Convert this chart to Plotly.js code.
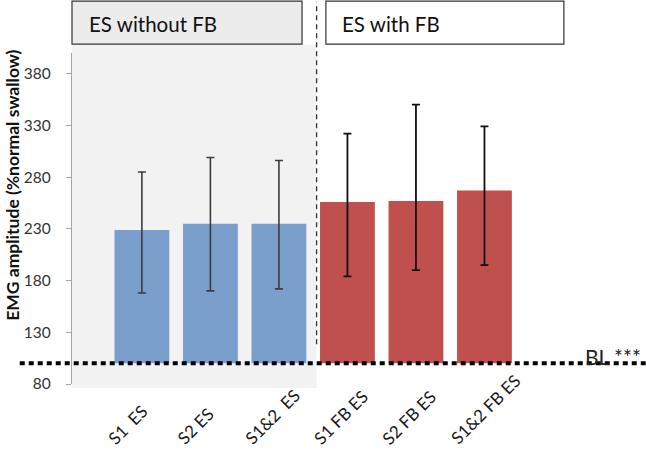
<!DOCTYPE html>
<html>
<head>
<meta charset="utf-8">
<script src="https://cdn.plot.ly/plotly-3.0.1.min.js"></script>
<style>
  body { margin: 0; background: #fff; }
  #plotDiv { width: 646px; height: 453px; }
</style>
</head>
<body>
<div id="plotDiv"></div>
<script>
// categories (x axis)
var catNoFB = ["S1\u00a0\u00a0ES", "S2 ES", "S1&amp;2\u00a0\u00a0ES"];
var catFB = ["S1 FB ES", "S2 FB ES", "S1&amp;2 FB ES"];

// mean EMG amplitude (%normal swallow)
var meanNoFB = [229, 235, 235];
var meanFB = [256, 257, 267];

// error bar ends (upper / lower)
var upNoFB = [285, 299, 296];
var lowNoFB = [168, 170, 172];
var upFB = [322, 350, 329];
var lowFB = [184, 190, 195];

// baseline (BL) level
var baseline = 100;

var tickVals = [80, 130, 180, 230, 280, 330, 380];

function above(means, ups) { return means.map(function (m, i) { return ups[i] - m; }); }
function below(means, lows) { return means.map(function (m, i) { return m - lows[i]; }); }
function sizes(means) { return means.map(function (m) { return m - baseline; }); }

var trace1 = {
    x: catNoFB,
    y: sizes(meanNoFB),
    base: baseline,
    type: "bar",
    marker: {color: "#7b9fcc"},
    error_y: {
        type: "data", symmetric: false,
        array: above(meanNoFB, upNoFB),
        arrayminus: below(meanNoFB, lowNoFB),
        color: "#3c3c3c", thickness: 1.6, width: 4
    },
    hoverinfo: "skip"
};

var trace2 = {
    x: catFB,
    y: sizes(meanFB),
    base: baseline,
    type: "bar",
    marker: {color: "#c0504d"},
    error_y: {
        type: "data", symmetric: false,
        array: above(meanFB, upFB),
        arrayminus: below(meanFB, lowFB),
        color: "#111111", thickness: 1.8, width: 4
    },
    hoverinfo: "skip"
};

var font = "Lato, 'Open Sans', sans-serif";
var allCats = catNoFB.concat(catFB);

// rotated category labels, bottom-aligned like the original
var catLabels = allCats.map(function (c) {
    return {text: c, xref: "x", yref: "paper", x: c, y: -0.203,
            xanchor: "left", yanchor: "bottom", xshift: -41, textangle: -45,
            showarrow: false, font: {family: font, size: 17, color: "#1a1a1a"}};
});

var layout = {
    width: 646,
    height: 453,
    margin: {l: 72, r: 6, t: 53, b: 69},
    showlegend: false,
    bargap: 0.2,
    paper_bgcolor: "#ffffff",
    plot_bgcolor: "#ffffff",
    font: {family: font, size: 14, color: "#222"},
    xaxis: {
        type: "category",
        categoryorder: "array",
        categoryarray: allCats,
        range: [-1.02, 7.27],
        showline: false,
        showgrid: false,
        zeroline: false,
        ticks: "",
        showticklabels: false
    },
    yaxis: {
        range: [80, 400],
        tickvals: tickVals,
        showgrid: false,
        zeroline: false,
        showline: true,
        linecolor: "#a6a6a6",
        linewidth: 1.2,
        ticks: "outside",
        ticklen: 5,
        tickcolor: "#a6a6a6",
        ticklabelstandoff: 12,
        tickfont: {family: font, size: 15.5, color: "#333"}
    },
    shapes: [
        // shaded "without FB" zone
        {type: "rect", layer: "below", xref: "x", yref: "paper",
         x0: -1.02, x1: 2.55, y0: -0.012, y1: 1.024,
         fillcolor: "#f2f2f2", line: {width: 0}},
        // dashed divider
        {type: "line", xref: "x", yref: "paper",
         x0: 2.55, x1: 2.55, y0: 0.12, y1: 1.155,
         line: {color: "#333", width: 1.3, dash: "5px,4px"}},
        // baseline dotted line
        {type: "line", xref: "paper", yref: "y",
         x0: -0.092, x1: 1.02, y0: baseline, y1: baseline,
         line: {color: "#000", width: 4, dash: "5px,4px"}},
        // group boxes
        {type: "rect", xref: "paper", yref: "paper",
         x0: 0, x1: 0.405, y0: 1.027, y1: 1.157,
         fillcolor: "#ececec", line: {color: "#333", width: 1.2}},
        {type: "rect", xref: "paper", yref: "paper",
         x0: 0.447, x1: 0.866, y0: 1.027, y1: 1.157,
         fillcolor: "#ffffff", line: {color: "#333", width: 1.2}}
    ],
    annotations: [
        {text: "ES without FB", xref: "paper", yref: "paper", x: 0.026, y: 1.087,
         xanchor: "left", yanchor: "middle", showarrow: false,
         font: {family: font, size: 20.5, color: "#111"}},
        {text: "ES with FB", xref: "paper", yref: "paper", x: 0.472, y: 1.087,
         xanchor: "left", yanchor: "middle", showarrow: false,
         font: {family: font, size: 20.5, color: "#111"}},
        {text: "BL ***", xref: "paper", yref: "y", x: 0.9, y: baseline,
         xanchor: "left", yanchor: "bottom", yshift: -8, showarrow: false,
         font: {family: font, size: 21, color: "#222"}},
        {text: "<b>EMG amplitude (%normal swallow)</b>", xref: "paper", yref: "paper",
         x: -0.105, y: 0.6, xanchor: "center", yanchor: "middle", textangle: -90,
         showarrow: false, font: {family: font, size: 17.5, color: "#111"}}
    ].concat(catLabels)
};

Plotly.newPlot("plotDiv", [trace1, trace2], layout, {staticPlot: true});
</script>
</body>
</html>
